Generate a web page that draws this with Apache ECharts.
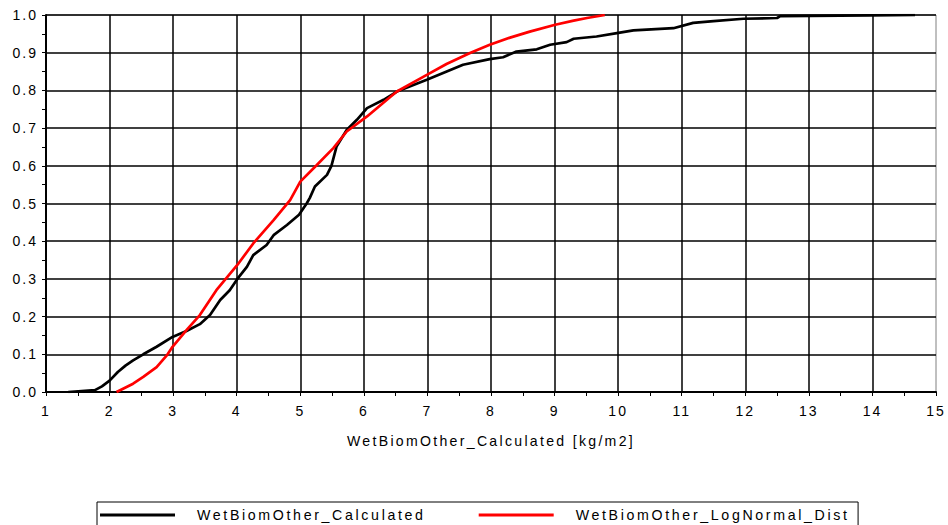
<!DOCTYPE html>
<html>
<head>
<meta charset="utf-8">
<script src="https://cdn.jsdelivr.net/npm/echarts@6/dist/echarts.min.js"></script>
<style>
  html, body { margin: 0; padding: 0; background: #fff; }
  #chart { width: 948px; height: 525px; }
  #chart text { letter-spacing: 2px; }
  #chart text[style*="14.2px"] { letter-spacing: 2.65px; }
  #chart text[style*="14.1px"] { letter-spacing: 2.3px; }
</style>
</head>
<body>
<div id="chart"></div>
<script>
// Cumulative distribution of wet biomass (kg/m2): empirical vs fitted log-normal
const seriesNames = ['WetBiomOther_Calculated', 'WetBiomOther_LogNormal_Dist'];

// [value kg/m2, cumulative probability]
const calculatedCdf = [
  [1.35, 0], [1.77, 0.005], [1.88, 0.015], [2.0, 0.03], [2.13, 0.053], [2.25, 0.07],
  [2.37, 0.084], [2.53, 0.10], [2.74, 0.12], [2.99, 0.146], [3.21, 0.162], [3.42, 0.18],
  [3.58, 0.204], [3.74, 0.244], [3.89, 0.27], [4.01, 0.30], [4.16, 0.332], [4.26, 0.363],
  [4.47, 0.39], [4.58, 0.416], [4.79, 0.443], [4.98, 0.47], [5.10, 0.50], [5.15, 0.515],
  [5.23, 0.545], [5.42, 0.576], [5.49, 0.60], [5.57, 0.651], [5.73, 0.695], [5.89, 0.722],
  [6.05, 0.753], [6.31, 0.775], [6.52, 0.797], [6.99, 0.828], [7.56, 0.868], [7.98, 0.883],
  [8.19, 0.888], [8.40, 0.903], [8.72, 0.909], [8.93, 0.921], [9.19, 0.928], [9.30, 0.937],
  [9.66, 0.943], [9.98, 0.952], [10.24, 0.959], [10.87, 0.965], [11.18, 0.979], [11.5, 0.984],
  [11.97, 0.99], [12.5, 0.992], [12.55, 0.997], [13.96, 0.999], [14.67, 1.0]
];

const logNormalCdf = [
  [2.11, 0], [2.37, 0.022], [2.53, 0.04], [2.74, 0.066], [2.90, 0.097], [2.99, 0.12],
  [3.21, 0.164], [3.42, 0.204], [3.68, 0.27], [4.01, 0.337], [4.26, 0.394], [4.58, 0.456],
  [4.84, 0.509], [5.0, 0.558], [5.26, 0.602], [5.52, 0.647], [5.73, 0.691], [6.05, 0.731],
  [6.41, 0.782], [6.52, 0.797], [6.99, 0.841], [7.3, 0.87], [7.67, 0.899], [7.98, 0.921],
  [8.3, 0.94], [8.61, 0.956], [9.01, 0.974], [9.3, 0.985], [9.51, 0.992], [9.79, 1.0]
];

const xTicks = { min: 1, max: 15, step: 1 };
const yTicks = { min: 0, max: 1, step: 0.1 };
const xAxisTitle = 'WetBiomOther_Calculated [kg/m2]';

const FONT = '"Liberation Sans", Arial, sans-serif';

const chart = echarts.init(document.getElementById('chart'), null, { renderer: 'svg' });

chart.setOption({
  animation: false,
  backgroundColor: '#fff',
  grid: {
    left: 46, right: 12, top: 15, bottom: 133,
    show: true, borderColor: '#808080', borderWidth: 1, backgroundColor: 'transparent'
  },
  legend: {
    left: 97, top: 502,
    padding: [6, 80, 20, 3],
    borderColor: '#000', borderWidth: 1,
    itemWidth: 75, itemHeight: 3, itemGap: 114,
    icon: 'rect',
    textStyle: {
      fontFamily: FONT, fontSize: 14.2, color: '#000',
      padding: [0, 0, 0, 17]
    },
    data: seriesNames
  },
  xAxis: {
    type: 'value',
    min: xTicks.min, max: xTicks.max, interval: xTicks.step,
    name: xAxisTitle,
    nameLocation: 'middle',
    nameGap: 42,
    nameTextStyle: { fontFamily: FONT, fontSize: 14.1, color: '#000' },
    axisLine: { lineStyle: { color: '#000', width: 2 } },
    axisTick: { show: true, length: 4, inside: false, lineStyle: { color: '#000', width: 1 } },
    minorTick: { show: true, splitNumber: 2, length: 4, lineStyle: { color: '#000', width: 1 } },
    axisLabel: { fontFamily: FONT, fontSize: 14, color: '#000', margin: 12 },
    splitLine: { show: true, showMaxLine: false, lineStyle: { color: '#000', width: 1.5 } }
  },
  yAxis: {
    type: 'value',
    min: yTicks.min, max: yTicks.max, interval: yTicks.step,
    axisLine: { show: true, lineStyle: { color: '#000', width: 2 } },
    axisTick: { show: true, length: 4, lineStyle: { color: '#000', width: 1 } },
    minorTick: { show: true, splitNumber: 2, length: 4, lineStyle: { color: '#000', width: 1 } },
    axisLabel: {
      fontFamily: FONT, fontSize: 14, color: '#000', margin: 8,
      formatter: v => v.toFixed(1)
    },
    splitLine: { show: true, lineStyle: { color: '#000', width: 1.5 } }
  },
  series: [
    {
      name: seriesNames[0], type: 'line', data: calculatedCdf,
      showSymbol: false, symbol: 'none', color: '#000',
      lineStyle: { color: '#000', width: 2.7 }, z: 3
    },
    {
      name: seriesNames[1], type: 'line', data: logNormalCdf,
      showSymbol: false, symbol: 'none', color: '#ff0000',
      lineStyle: { color: '#ff0000', width: 2.7 }, z: 4
    }
  ]
});
</script>
</body>
</html>
